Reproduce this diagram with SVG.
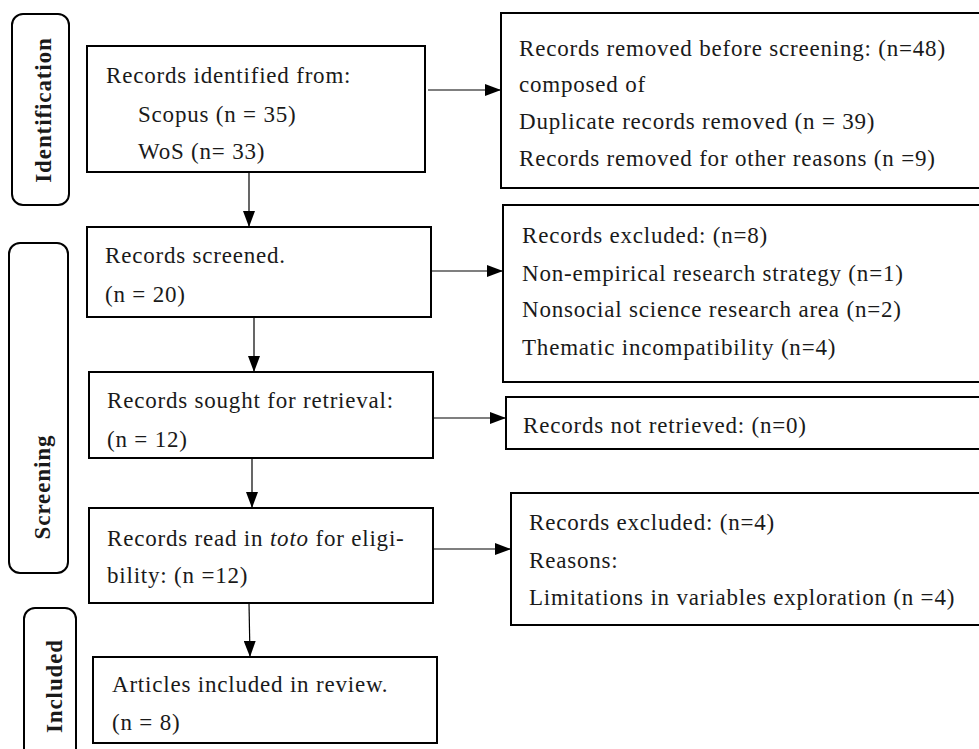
<svg xmlns="http://www.w3.org/2000/svg" width="979" height="749" viewBox="0 0 979 749">
<style>
.box{fill:#fff;stroke:#000;stroke-width:2}
.lab{fill:#fff;stroke:#000;stroke-width:2}
.t{font-family:"Liberation Serif","Times New Roman",serif;font-size:23px;letter-spacing:0.8px;fill:#1a1a1a}
.lt{font-family:"Liberation Serif","Times New Roman",serif;font-size:23px;font-weight:bold;letter-spacing:0.9px;fill:#1a1a1a;text-anchor:middle}
.c{stroke:#000;stroke-width:1.2;fill:none}
</style>
<defs>
<marker id="ah" markerUnits="userSpaceOnUse" markerWidth="16" markerHeight="12" refX="16" refY="6" orient="auto">
<path d="M0,0 L16,6 L0,12 z" fill="#000"/>
</marker>
</defs>
<rect width="979" height="749" fill="#fff"/>

<g id="label-identification">
<rect class="lab" x="12" y="14" width="57" height="191" rx="11"/>
<text class="lt" transform="translate(51,110) rotate(-90)">Identification</text>
</g>
<g id="label-screening">
<rect class="lab" x="9" y="243" width="59" height="330" rx="11"/>
<text class="lt" transform="translate(50,487) rotate(-90)">Screening</text>
</g>
<g id="label-included">
<rect class="lab" x="24" y="608" width="52" height="160" rx="11"/>
<text class="lt" transform="translate(62,686) rotate(-90)">Included</text>
</g>

<g id="connectors">
<line class="c" x1="428" y1="90" x2="501" y2="90" marker-end="url(#ah)"/>
<line class="c" x1="249" y1="164" x2="249" y2="227" marker-end="url(#ah)"/>
<line class="c" x1="431" y1="271" x2="503" y2="271" marker-end="url(#ah)"/>
<line class="c" x1="254" y1="314" x2="254" y2="372" marker-end="url(#ah)"/>
<line class="c" x1="433" y1="418" x2="506" y2="418" marker-end="url(#ah)"/>
<line class="c" x1="252" y1="458" x2="252" y2="508" marker-end="url(#ah)"/>
<line class="c" x1="428" y1="549" x2="511" y2="549" marker-end="url(#ah)"/>
<line class="c" x1="249" y1="603" x2="250" y2="657" marker-end="url(#ah)"/>
</g>

<g id="identified">
<rect class="box" x="87" y="46" width="338" height="126"/>
<text class="t" x="106" y="83">Records identified from:</text>
<text class="t" x="138" y="122">Scopus (n = 35)</text>
<text class="t" x="138" y="159">WoS (n= 33)</text>
</g>

<g id="removed">
<rect class="box" x="501" y="13" width="490" height="175"/>
<text class="t" x="519" y="56">Records removed before screening: (n=48)</text>
<text class="t" x="519" y="92">composed of</text>
<text class="t" x="519" y="129">Duplicate records removed (n = 39)</text>
<text class="t" x="519" y="166">Records removed for other reasons (n =9)</text>
</g>

<g id="screened">
<rect class="box" x="87" y="227" width="344" height="90"/>
<text class="t" x="105" y="263">Records screened.</text>
<text class="t" x="105" y="302">(n = 20)</text>
</g>

<g id="excluded8">
<rect class="box" x="503" y="205" width="490" height="177"/>
<text class="t" x="522" y="243">Records excluded: (n=8)</text>
<text class="t" x="522" y="281">Non-empirical research strategy (n=1)</text>
<text class="t" x="522" y="317">Nonsocial science research area (n=2)</text>
<text class="t" x="522" y="355">Thematic incompatibility (n=4)</text>
</g>

<g id="sought">
<rect class="box" x="89" y="372" width="344" height="86"/>
<text class="t" x="107" y="408">Records sought for retrieval:</text>
<text class="t" x="107" y="447">(n = 12)</text>
</g>

<g id="notretrieved">
<rect class="box" x="506" y="397" width="490" height="52"/>
<text class="t" x="523" y="433">Records not retrieved: (n=0)</text>
</g>

<g id="readtoto">
<rect class="box" x="89" y="508" width="344" height="95"/>
<text class="t" x="107" y="546">Records read in <tspan font-style="italic">toto</tspan> for eligi-</text>
<text class="t" x="107" y="583">bility: (n =12)</text>
</g>

<g id="excluded4">
<rect class="box" x="511" y="493" width="490" height="132"/>
<text class="t" x="529" y="530">Records excluded: (n=4)</text>
<text class="t" x="529" y="568">Reasons:</text>
<text class="t" x="529" y="605">Limitations in variables exploration (n =4)</text>
</g>

<g id="included">
<rect class="box" x="93" y="657" width="344" height="86"/>
<text class="t" x="112" y="692">Articles included in review.</text>
<text class="t" x="112" y="730">(n = 8)</text>
</g>
</svg>
